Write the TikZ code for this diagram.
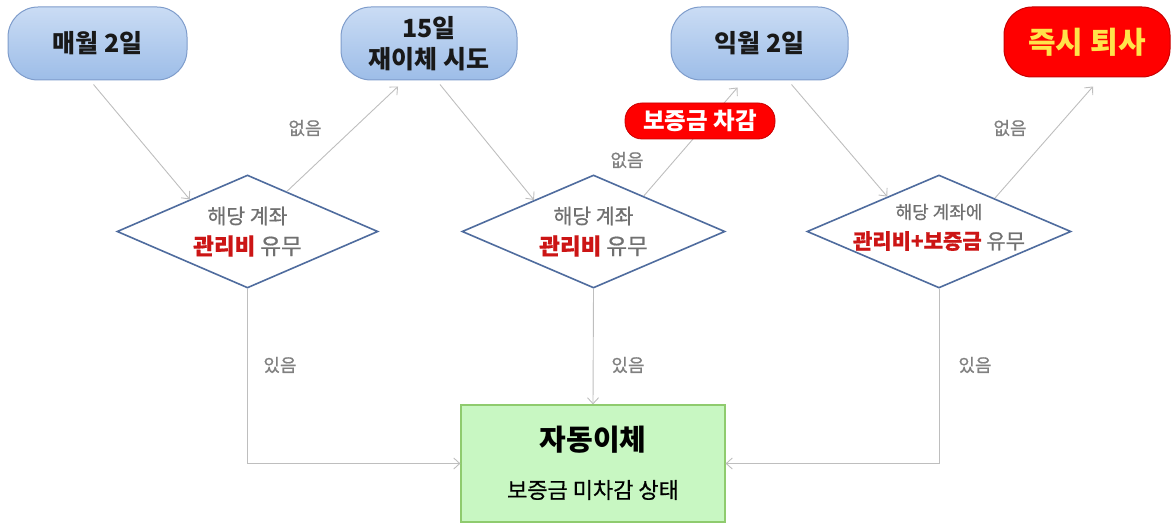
\documentclass[tikz,border=0pt]{standalone}
\usepackage{fontspec}
\setmainfont{Noto Sans CJK KR}
\newfontfamily\semifont[FakeBold=0.6]{Noto Sans CJK KR}
\usetikzlibrary{arrows.meta,calc,shapes.geometric}
\definecolor{boxborder}{HTML}{7E9CCB}
\definecolor{boxtop}{HTML}{CADCF4}
\definecolor{boxbot}{HTML}{9DBDE8}
\definecolor{conn}{HTML}{BEBEBE}
\definecolor{dborder}{HTML}{4F6C9E}
\definecolor{gtext}{HTML}{707070}
\definecolor{redtext}{HTML}{CC1515}
\definecolor{greenfill}{HTML}{C8F7C2}
\definecolor{greenborder}{HTML}{8FCB6E}
\definecolor{alertred}{HTML}{FF0000}
\definecolor{alertborder}{HTML}{C80000}
\definecolor{yellowtext}{HTML}{FFE34A}
\definecolor{labeltext}{HTML}{808080}
\tikzset{
  datebox/.style={rounded corners=30pt, draw=boxborder, line width=1pt, top color=boxtop, bottom color=boxbot,
    inner sep=0pt, align=center, text=black!90, font=\fontsize{25}{31}\selectfont\bfseries},
  alertbox/.style={rounded corners=28pt, draw=alertborder, line width=1pt, fill=alertred, inner sep=0pt,
    text=yellowtext, font=\fontsize{30}{34}\selectfont\bfseries},
  pill/.style={rounded corners=17pt, draw=alertborder, line width=0.8pt, fill=alertred, inner sep=0pt,
    text=white, font=\fontsize{23.5}{26}\selectfont\bfseries},
  decision/.style={diamond, aspect=2.3, draw=dborder, line width=1.6pt, fill=white, inner sep=0pt},
  dtext/.style={inner sep=0pt, text=gtext},
  result/.style={draw=greenborder, line width=1.2pt, fill=greenfill, inner sep=0pt},
  conn/.style={draw=conn, line width=0.9pt, -{Straight Barb[length=6pt,width=11pt]}},
  lbl/.style={text=labeltext, inner sep=0pt, font=\semifont\fontsize{18}{20}\selectfont}
}
\newcommand{\redpart}[1]{\textcolor{redtext}{\bfseries #1}}
\begin{document}
\begin{tikzpicture}[x=1pt,y=-1pt]
\useasboundingbox (0,0) rectangle (1172,524);
% top boxes
\node[datebox, minimum width=179pt, minimum height=73pt] (b1) at (97.5,43.5) {매월 2일};
\node[datebox, minimum width=176pt, minimum height=73pt] (b2) at (429,43.5) {15일\\재이체 시도};
\node[datebox, minimum width=177pt, minimum height=73pt] (b3) at (759.5,43.5) {익월 2일};
\node[alertbox, minimum width=166pt, minimum height=70pt] (b4) at (1087,42) {즉시 퇴사};
% diamonds
\node[decision, minimum width=261pt, minimum height=113pt] (d1) at (247.5,231.5) {};
\node[decision, minimum width=263pt, minimum height=113pt] (d2) at (593.5,231.5) {};
\node[decision, minimum width=264pt, minimum height=113pt] (d3) at (939,231.5) {};
\node[dtext, font=\semifont\fontsize{20.5}{22}\selectfont] (d1a) at (247.5,216) {해당 계좌};
\node[dtext, font=\semifont\fontsize{22.5}{24}\selectfont] (d1b) at (247.5,246) {\redpart{관리비} 유무};
\node[dtext, font=\semifont\fontsize{20.5}{22}\selectfont] (d2a) at (593.5,216) {해당 계좌};
\node[dtext, font=\semifont\fontsize{22.5}{24}\selectfont] (d2b) at (593.5,246) {\redpart{관리비} 유무};
\node[dtext, font=\semifont\fontsize{18}{20}\selectfont] (d3a) at (939,212) {해당 계좌에};
\node[dtext, font=\semifont\fontsize{21}{23}\selectfont] (d3b) at (939,241) {\redpart{관리비+보증금} 유무};
% result
\node[result, minimum width=264pt, minimum height=117pt] (g) at (593,463.5) {};
\node[inner sep=0pt, font=\fontsize{29}{32}\selectfont\bfseries] (gt1) at (593,440) {자동이체};
\node[inner sep=0pt, font=\semifont\fontsize{22}{24}\selectfont] (gt2) at (593,490) {보증금 미차감 상태};
% connectors
\draw[conn] ($(b1.south)+(-4,4)$) -- ($(d1.west)!0.56!(d1.north)$);
\draw[conn] ($(d1.north)!0.3!(d1.east)$) -- ($(b2.south)+(-31,6)$);
\draw[conn] ($(b2.south)+(11,4)$) -- ($(d2.west)!0.55!(d2.north)$);
\draw[conn] ($(d2.north)!0.38!(d2.east)$) -- ($(b3.south)+(-22,7)$);
\draw[conn] ($(b3.south)+(32,4)$) -- ($(d3.west)!0.61!(d3.north)$);
\draw[conn] ($(d3.north)!0.42!(d3.east)$) -- ($(b4.south)+(6,9)$);
\draw[conn] (d1.south) |- (g.west);
\draw[conn] (d2.south) -- (g.north);
\draw[conn] (d3.south) |- (g.east);
% pill on top of the connector
\node[pill, minimum width=150pt, minimum height=36pt] (p) at (700,121) {보증금 차감};
% labels
\node[lbl] (n1) at (305,128) {없음};
\node[lbl] (n2) at (627,160) {없음};
\node[lbl] (n3) at (1010,128) {없음};
\node[lbl] (y1) at (280,365) {있음};
\node[lbl] (y2) at (628,365) {있음};
\node[lbl] (y3) at (975,365) {있음};
\end{tikzpicture}
\end{document}
